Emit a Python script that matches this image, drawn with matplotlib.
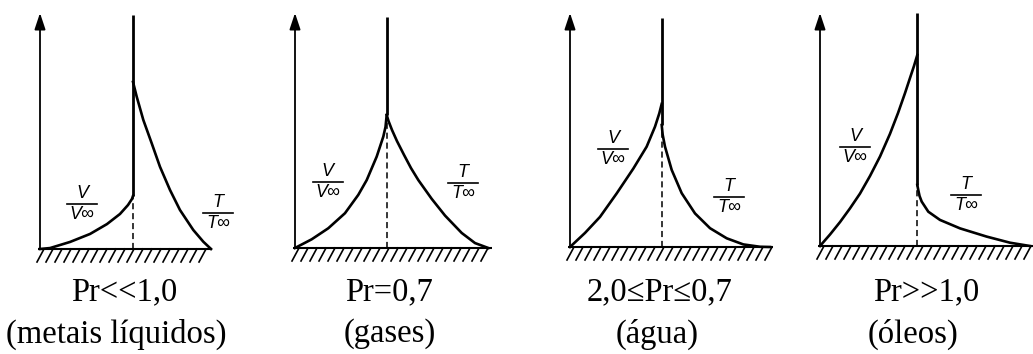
import matplotlib
matplotlib.use("Agg")
import matplotlib.pyplot as plt
import numpy as np

# ---------------- data ----------------
pr_labels = ["Pr<<1,0", "Pr=0,7", "2,0≤Pr≤0,7", "Pr>>1,0"]
fluid_labels = ["(metais líquidos)", "(gases)", "(água)", "(óleos)"]

# velocity profile: u = V/V_inf (0 at wall axis, 1 at centre line), eta = height
v1_u = [0, 0.108, 0.323, 0.538, 0.72, 0.86, 0.946, 0.989, 1.0]
v1_eta = [0, 0.004, 0.03, 0.064, 0.106, 0.149, 0.187, 0.213, 0.226]
v2_u = [0, 0.182, 0.363, 0.545, 0.69, 0.782, 0.891, 0.963, 0.987, 1.0]
v2_eta = [0, 0.037, 0.084, 0.148, 0.226, 0.289, 0.389, 0.474, 0.515, 0.566]
v3_u = [0, 0.164, 0.327, 0.509, 0.691, 0.836, 0.927, 0.974, 1.0]
v3_eta = [0, 0.06, 0.128, 0.228, 0.334, 0.427, 0.512, 0.569, 0.609]
v4_u = [0, 0.103, 0.206, 0.308, 0.411, 0.514, 0.617, 0.719, 0.802, 0.874, 0.925, 0.966, 1.0]
v4_eta = [0, 0.049, 0.102, 0.16, 0.223, 0.298, 0.381, 0.477, 0.566, 0.651, 0.715, 0.766, 0.813]

# temperature profile: offset to the right of the centre line, eta = height
t1_off = [0, 0.04, 0.111, 0.201, 0.29, 0.398, 0.505, 0.648, 0.756, 0.839]
t1_eta = [0.711, 0.648, 0.549, 0.45, 0.35, 0.251, 0.166, 0.081, 0.031, 0]
t2_off = [0, 0.020, 0.058, 0.112, 0.189, 0.265, 0.345, 0.491, 0.636, 0.818, 0.963, 1.108]
t2_eta = [0.566, 0.540, 0.502, 0.455, 0.396, 0.340, 0.289, 0.209, 0.138, 0.064, 0.021, 0]
t3_off = [0, 0.011, 0.036, 0.109, 0.218, 0.363, 0.527, 0.709, 0.89, 1.072, 1.18]
t3_eta = [0.519, 0.477, 0.427, 0.328, 0.229, 0.143, 0.080, 0.037, 0.011, 0.001, 0]
t4_off = [0, 0.01, 0.023, 0.045, 0.113, 0.233, 0.439, 0.713, 0.953, 1.158]
t4_eta = [0.26, 0.238, 0.213, 0.189, 0.146, 0.111, 0.075, 0.04, 0.014, 0]

V_U = [v1_u, v2_u, v3_u, v4_u]
V_ETA = [v1_eta, v2_eta, v3_eta, v4_eta]
T_OFF = [t1_off, t2_off, t3_off, t4_off]
T_ETA = [t1_eta, t2_eta, t3_eta, t4_eta]

# ---------------- layout (pixels) ----------------
FW, FH = 1033, 354
SH = 235.0  # pixel height of one eta unit
layouts = [
    dict(x0=40, y0=249, D=93, ctop=15, bend=212, vlab=(82, 204), tlab=(218, 213), cap=124, cap2=116),
    dict(x0=295, y0=248, D=91.7, ctop=17, bend=492, vlab=(327.5, 182), tlab=(463, 183), cap=389, cap2=390),
    dict(x0=570, y0=247, D=91.7, ctop=18, bend=773, vlab=(613, 149), tlab=(729, 197), cap=660, cap2=657),
    dict(x0=820, y0=246, D=97.3, ctop=13, bend=1033, vlab=(855, 147), tlab=(966, 195), cap=926.7, cap2=913),
]

fig = plt.figure(figsize=(FW / 100, FH / 100), dpi=100)
fig.patch.set_facecolor("white")

serif = ["Liberation Serif", "DejaVu Serif"]
sans = ["Liberation Sans", "DejaVu Sans"]


def frac(ax, L, cx, cy, num, den):
    dx = lambda p: (p - L["x0"]) / L["D"]
    dy = lambda p: (L["y0"] - p) / SH
    ax.plot([dx(cx - 15), dx(cx + 15)], [dy(cy), dy(cy)], color="k", lw=1.2, clip_on=False)
    ax.text(dx(cx), dy(cy - 2), num, ha="center", va="bottom", fontsize=13,
            style="italic", family=sans, clip_on=False)
    ax.text(dx(cx), dy(cy + 2), den, ha="center", va="top", fontsize=13,
            style="italic", family=sans, clip_on=False)


for i, L in enumerate(layouts):
    ax = fig.add_axes([L["x0"] / FW, (FH - L["y0"]) / FH, L["D"] / FW, SH / FH])
    ax.set_xlim(0, 1)
    ax.set_ylim(0, 1)
    ax.axis("off")
    D = L["D"]
    top = (L["y0"] - 13) / SH
    ctop = (L["y0"] - L["ctop"]) / SH
    # y axis arrow
    ax.annotate("", xy=(0, top), xytext=(0, 0), annotation_clip=False,
                arrowprops=dict(arrowstyle="-|>,head_length=0.9,head_width=0.3", lw=1.3, color="k",
                                mutation_scale=11, shrinkA=0, shrinkB=0))
    # wall
    xend = (L["bend"] - L["x0"]) / D
    ax.plot([-0.02, xend], [0, 0], color="k", lw=1.5, clip_on=False, solid_capstyle="butt")
    for xs in np.arange(4.0 / D, xend + 0.001, 9.0 / D):
        ax.plot([xs, xs - 7.0 / D], [0, -13.0 / SH], color="k", lw=1.2, clip_on=False)
    # centre line
    v_end = V_ETA[i][-1]
    t_start = T_ETA[i][0]
    solid_low = min(v_end, t_start)
    ax.plot([1, 1], [solid_low, ctop], color="k", lw=2.0, clip_on=False, solid_capstyle="butt")
    ax.plot([1, 1], [0, solid_low], color="k", lw=1.1, ls=(0, (4, 2.5)), clip_on=False)
    # profiles
    ax.plot(V_U[i], V_ETA[i], color="k", lw=1.9, clip_on=False, solid_joinstyle="round")
    ax.plot(1 + np.array(T_OFF[i]), T_ETA[i], color="k", lw=1.9, clip_on=False,
            solid_joinstyle="round")
    # labels
    frac(ax, L, L["vlab"][0], L["vlab"][1], "V", "V∞")
    frac(ax, L, L["tlab"][0], L["tlab"][1], "T", "T∞")
    # captions
    fig.text(L["cap"] / FW, 1 - 292 / FH, pr_labels[i], ha="center", va="center",
             fontsize=23.5, family=serif)
    fig.text(L["cap2"] / FW, 1 - 334 / FH, fluid_labels[i], ha="center", va="center",
             fontsize=23.5, family=serif)

fig.savefig("out.png", dpi=100, facecolor="white")
